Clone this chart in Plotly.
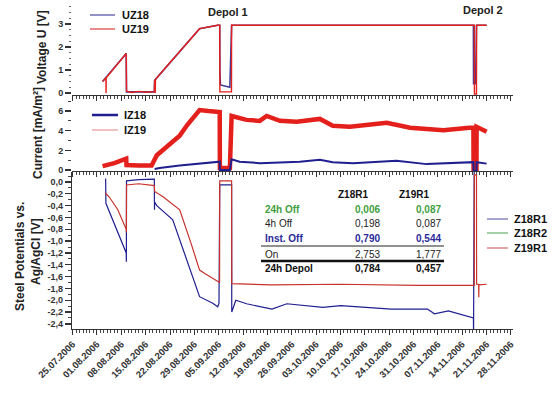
import plotly.graph_objects as go

# ---------------- data ----------------
uz18_t = ["2006-08-02 15:00", "2006-08-09 10:00", "2006-08-09 12:00", "2006-08-17 12:00", "2006-08-17 14:00",
          "2006-08-30 12:00", "2006-09-04 17:00", "2006-09-05 07:00", "2006-09-05 08:00", "2006-09-05 12:00",
          "2006-09-08 05:00", "2006-09-08 17:00", "2006-11-17 05:00", "2006-11-17 06:00", "2006-11-17 20:00",
          "2006-11-18 02:00", "2006-11-21 00:00"]
uz18_v = [0.5, 1.72, 0.05, 0.05, 0.55, 2.8, 2.95, 2.95, 0.95, 0.35, 0.25, 2.95, 2.95, 0.4, 0.4, 2.95, 2.95]

uz19_t = ["2006-08-02 15:00", "2006-08-03 14:00", "2006-08-03 15:00", "2006-08-03 16:00", "2006-08-09 10:00",
          "2006-08-09 12:00", "2006-08-11 00:00", "2006-08-13 00:00", "2006-08-15 00:00", "2006-08-17 12:00",
          "2006-08-17 14:00", "2006-08-17 18:00", "2006-08-17 20:00", "2006-08-30 12:00", "2006-09-04 17:00",
          "2006-09-05 07:00", "2006-09-05 08:00", "2006-09-08 16:00", "2006-09-08 17:00", "2006-11-17 11:00",
          "2006-11-17 12:00", "2006-11-18 02:00", "2006-11-18 03:00", "2006-11-21 00:00"]
uz19_v = [0.5, 0.65, 0.0, 0.66, 1.72, 0.08, 0.02, 0.07, 0.03, 0.06, 0.55, 0.0, 0.6, 2.8, 2.95,
          2.95, 0.05, 0.05, 2.95, 2.95, -0.05, -0.05, 2.95, 2.95]

iz18_t = ["2006-08-17 14:00", "2006-08-19 00:00", "2006-08-24 19:00", "2006-08-30 12:00", "2006-09-04 17:00",
          "2006-09-05 07:00", "2006-09-05 08:00", "2006-09-08 05:00", "2006-09-08 17:00", "2006-09-11 00:00",
          "2006-09-16 19:00", "2006-09-22 14:00", "2006-09-28 07:00", "2006-10-04 02:00", "2006-10-07 19:00",
          "2006-10-13 14:00", "2006-10-20 00:00", "2006-10-26 02:00", "2006-11-03 19:00", "2006-11-10 00:00",
          "2006-11-16 00:00", "2006-11-17 05:00", "2006-11-17 06:00", "2006-11-18 02:00", "2006-11-18 03:00",
          "2006-11-21 00:00"]
iz18_v = [0.1, 0.2, 0.45, 0.65, 0.85, 0.85, 0.0, 0.0, 1.1, 0.85, 0.7, 0.8, 0.85, 1.05, 0.8,
          0.7, 0.8, 0.95, 0.6, 0.7, 0.85, 0.8, -0.1, -0.1, 0.8, 0.65]

iz19_t = ["2006-08-02 15:00", "2006-08-06 00:00", "2006-08-09 10:00", "2006-08-09 12:00", "2006-08-13 00:00",
          "2006-08-16 17:00", "2006-08-18 05:00", "2006-08-22 19:00", "2006-08-24 19:00", "2006-08-27 00:00",
          "2006-08-30 12:00", "2006-09-02 00:00", "2006-09-04 17:00", "2006-09-05 07:00", "2006-09-05 08:00",
          "2006-09-08 05:00", "2006-09-08 17:00", "2006-09-13 00:00", "2006-09-16 19:00", "2006-09-18 19:00",
          "2006-09-22 14:00", "2006-09-27 10:00", "2006-10-04 02:00", "2006-10-07 19:00", "2006-10-12 17:00",
          "2006-10-23 07:00", "2006-10-30 00:00", "2006-11-08 14:00", "2006-11-16 00:00", "2006-11-17 05:00",
          "2006-11-17 06:00", "2006-11-18 02:00", "2006-11-18 03:00", "2006-11-21 00:00"]
iz19_v = [0.4, 0.7, 1.15, 0.5, 0.45, 0.45, 1.5, 2.8, 3.5, 4.6, 6.1, 6.0, 5.9, 5.9, 0.2,
          0.2, 5.5, 5.1, 5.0, 5.5, 5.0, 4.9, 5.2, 4.5, 4.4, 4.8, 4.3, 4.05, 4.3, 4.3,
          0.1, 0.1, 4.4, 3.9]

z18r1_t = ["2006-08-03 12:00", "2006-08-03 14:00", "2006-08-09 10:00", "2006-08-09 11:00", "2006-08-09 12:00",
           "2006-08-13 00:00", "2006-08-17 12:00", "2006-08-17 13:00", "2006-08-17 14:00", "2006-08-18 05:00",
           "2006-08-22 19:00", "2006-08-30 12:00", "2006-09-03 07:00", "2006-09-04 17:00", "2006-09-05 02:00",
           "2006-09-05 07:00", "2006-09-08 17:00", "2006-09-08 18:00", "2006-09-09 22:00", "2006-09-13 00:00",
           "2006-09-20 07:00", "2006-09-24 14:00", "2006-10-04 22:00", "2006-10-10 02:00", "2006-10-24 14:00",
           "2006-11-04 00:00", "2006-11-06 00:00", "2006-11-10 00:00", "2006-11-15 05:00", "2006-11-17 05:00",
           "2006-11-17 06:00", "2006-11-17 10:00"]
z18r1_v = [0.06, -0.36, -1.2, -1.35, 0.02, 0.04, 0.05, -0.47, -0.34, -0.4,
           -0.64, -1.94, -2.05, -2.11, -2.05, -0.05, -0.05, -2.2, -2.0, -2.06,
           -2.15, -2.06, -2.12, -2.09, -2.15, -2.15, -2.23, -2.18, -2.27, -2.3,
           -2.6, 0.2]

z18r2_t = []
z18r2_v = []

z19r1_t = ["2006-08-03 12:00", "2006-08-03 14:00", "2006-08-04 12:00", "2006-08-07 00:00", "2006-08-09 10:00",
           "2006-08-09 11:00", "2006-08-09 12:00", "2006-08-13 00:00", "2006-08-17 12:00", "2006-08-17 14:00",
           "2006-08-20 00:00", "2006-08-24 19:00", "2006-08-28 00:00", "2006-08-30 12:00", "2006-09-01 00:00",
           "2006-09-04 17:00", "2006-09-05 06:00", "2006-09-05 07:00", "2006-09-08 17:00", "2006-09-08 18:00",
           "2006-09-20 00:00", "2006-10-10 00:00", "2006-11-01 00:00", "2006-11-17 11:00", "2006-11-17 12:00",
           "2006-11-18 02:00", "2006-11-18 03:00", "2006-11-18 17:00", "2006-11-18 18:00", "2006-11-18 19:00",
           "2006-11-21 00:00"]
z19r1_v = [-0.18, -0.2, -0.25, -0.47, -0.8, -0.85, -0.05, -0.03, -0.06, -0.16,
           -0.25, -0.47, -1.03, -1.49, -1.55, -1.69, -1.7, 0.02, 0.02, -1.72,
           -1.74, -1.73, -1.75, -1.75, 0.12, 0.12, -1.73, -1.73, -1.95, -1.74,
           -1.73]

tick_dates = ["2006-07-25", "2006-08-01", "2006-08-08", "2006-08-15", "2006-08-22", "2006-08-29",
              "2006-09-05", "2006-09-12", "2006-09-19", "2006-09-26", "2006-10-03", "2006-10-10",
              "2006-10-17", "2006-10-24", "2006-10-31", "2006-11-07", "2006-11-14", "2006-11-21",
              "2006-11-28"]
pot_ticks = [0.0, -0.2, -0.4, -0.6, -0.8, -1.0, -1.2, -1.4, -1.6, -1.8, -2.0, -2.2, -2.4]
pot_labels = ["0,0", "-0,2", "-0,4", "-0,6", "-0,8", "-1,0", "-1,2", "-1,4", "-1,6", "-1,8",
              "-2,0", "-2,2", "-2,4"]

table_cols = ["Z18R1", "Z19R1"]
table_rows = ["24h Off", "4h Off", "Inst. Off", "On", "24h Depol"]
table_z18r1 = ["0,006", "0,198", "0,790", "2,753", "0,784"]
table_z19r1 = ["0,087", "0,087", "0,544", "1,777", "0,457"]

# ---------------- styling helpers ----------------
W, H = 560, 396
L, R, T, B = 72, 47, 5, 67
PW, PH = W - L - R, H - T - B


def px(x):
    return (x - L) / PW


def py(y):
    return (H - B - y) / PH


BLUE = "#1f1f8f"
RED = "#e4201c"
RED2 = "#c8322c"
GREEN = "#3f9f3f"
FONT = "Liberation Sans, Arial, sans-serif"

fig = go.Figure()

# top panel: voltage
fig.add_trace(go.Scatter(x=uz18_t, y=uz18_v, name="UZ18", mode="lines", line=dict(color="#3a3a9a", width=1.6),
                         xaxis="x", yaxis="y"))
fig.add_trace(go.Scatter(x=uz19_t, y=uz19_v, name="UZ19", mode="lines", line=dict(color=RED, width=1.4),
                         xaxis="x", yaxis="y"))

# middle panel: current
fig.add_trace(go.Scatter(x=iz19_t, y=iz19_v, name="IZ19", mode="lines", line=dict(color=RED, width=4.5),
                         xaxis="x2", yaxis="y2"))
fig.add_trace(go.Scatter(x=iz18_t, y=iz18_v, name="IZ18", mode="lines", line=dict(color=BLUE, width=2),
                         xaxis="x2", yaxis="y2"))

# bottom panel: potentials
fig.add_trace(go.Scatter(x=z18r1_t, y=z18r1_v, name="Z18R1", mode="lines", line=dict(color=BLUE, width=1.2),
                         xaxis="x3", yaxis="y3"))
fig.add_trace(go.Scatter(x=z18r2_t if z18r2_t else [None], y=z18r2_v if z18r2_v else [None], name="Z18R2",
                         mode="lines", line=dict(color=GREEN, width=1.2), xaxis="x3", yaxis="y3"))
fig.add_trace(go.Scatter(x=z19r1_t, y=z19r1_v, name="Z19R1", mode="lines", line=dict(color=RED2, width=1.2),
                         xaxis="x3", yaxis="y3"))

xrange = ["2006-07-24 20:00", "2006-11-28 14:00"]
xcommon = dict(range=xrange, type="date", showline=True, linecolor="#333", linewidth=1,
               ticks="outside", ticklen=5, tickwidth=1, tickcolor="#333",
               tickvals=tick_dates, showgrid=False, zeroline=False,
               minor=dict(dtick=86400000, ticks="outside", ticklen=3, tickwidth=1, tickcolor="#444"))
tickfont = dict(family=FONT, size=9, color="#333", weight="bold")
xtickfont = dict(family=FONT, size=9.5, color="#333", weight="bold")

ycommon = dict(showline=False, ticks="outside", ticklen=6, tickwidth=1.3, tickcolor="#333",
               showgrid=False, zeroline=False, tickfont=tickfont)

annotations = []
shapes = []


def text(x, y, s, size=11, color="#222", bold=True, xa="center", ya="middle", angle=0):
    annotations.append(dict(x=px(x), y=py(y), xref="paper", yref="paper", text=s, showarrow=False,
                            xanchor=xa, yanchor=ya, textangle=angle,
                            font=dict(family=FONT, size=size, color=color,
                                      weight="bold" if bold else "normal")))


def hline(x0, x1, y, color, width):
    shapes.append(dict(type="line", xref="paper", yref="paper", x0=px(x0), x1=px(x1), y0=py(y), y1=py(y),
                       line=dict(color=color, width=width)))


# axis titles
text(42, 47, "Voltage U [V]", size=12, angle=-90)
text(38, 133, "Current [mA/m²]", size=12, angle=-90)
text(20, 257, "Steel Potentials vs.", size=12, angle=-90)
text(36, 252, "Ag/AgCl [V]", size=12, angle=-90)
text(228, 12, "Depol 1", size=11)
text(483, 10, "Depol 2", size=11)

# legends (glyph + label)
legend_items = [
    (90, 115, 15, 120, "UZ18", "#4a4aa6", 1.2),
    (90, 115, 29, 120, "UZ19", "#d8403c", 1.2),
    (92, 118, 115, 122, "IZ18", BLUE, 2.5),
    (92, 118, 130, 122, "IZ19", "#e89a9a", 1.2),
    (487, 508, 219, 512, "Z18R1", "#6a6aaa", 1.2),
    (487, 508, 233, 512, "Z18R2", "#6ab06a", 1.2),
    (487, 508, 248, 512, "Z19R1", "#d06a6a", 1.2),
]
for x0, x1, y, tx, lab, col, w in legend_items:
    hline(x0, x1, y, col, w)
    text(tx, y, lab, size=11, color="#111", xa="left")

# table
row_y = [209, 223, 238, 254, 268]
row_colors = [GREEN, "#222", "#2a2a9a", "#222", "#111"]
row_bold = [True, False, True, False, True]
for cx, label in zip([353, 414], table_cols):
    text(cx, 195, label, size=10, color="#111")
for i, lab in enumerate(table_rows):
    text(263, row_y[i], lab, size=10, color=row_colors[i], bold=row_bold[i], xa="left")
    text(382, row_y[i], table_z18r1[i], size=10, color=row_colors[i], bold=row_bold[i], xa="right")
    text(443, row_y[i], table_z19r1[i], size=10, color=row_colors[i], bold=row_bold[i], xa="right")
hline(261, 444, 246, "#222", 1)
hline(261, 444, 261, "#111", 2.5)

fig.update_layout(
    width=W, height=H, margin=dict(l=L, r=R, t=T, b=B),
    paper_bgcolor="white", plot_bgcolor="white",
    font=dict(family=FONT, color="#222"),
    showlegend=False,
    xaxis=dict(**xcommon, anchor="y", matches="x3", showticklabels=False),
    xaxis2=dict(**xcommon, anchor="y2", matches="x3", showticklabels=False),
    xaxis3=dict(**xcommon, anchor="y3", tickformat="%d.%m.%Y", tickangle=-45, tickfont=xtickfont),
    yaxis=dict(**ycommon, domain=[py(95), 1.0], anchor="x", range=[-0.087, 3.83], tickvals=[0, 1, 2, 3],
               minor=dict(dtick=0.25, ticks="outside", ticklen=2, tickwidth=1, tickcolor="#666")),
    yaxis2=dict(**ycommon, domain=[py(171), py(96)], anchor="x2", range=[-0.1, 7.53], tickvals=[0, 2, 4, 6],
                minor=dict(dtick=1, ticks="outside", ticklen=3, tickwidth=1, tickcolor="#444")),
    yaxis3=dict(**{**ycommon, "showline": True}, linecolor="#333", linewidth=1.2, domain=[0.0, py(172)],
                anchor="x3", range=[-2.487, 0.169], tickvals=pot_ticks, ticktext=pot_labels,
                minor=dict(dtick=0.1, ticks="outside", ticklen=3, tickwidth=1, tickcolor="#444")),
    annotations=annotations,
    shapes=shapes,
)

fig.write_html("out.html", config={"displayModeBar": False, "staticPlot": True},
               post_script="document.body.style.margin='0';document.body.style.overflow='hidden';")
